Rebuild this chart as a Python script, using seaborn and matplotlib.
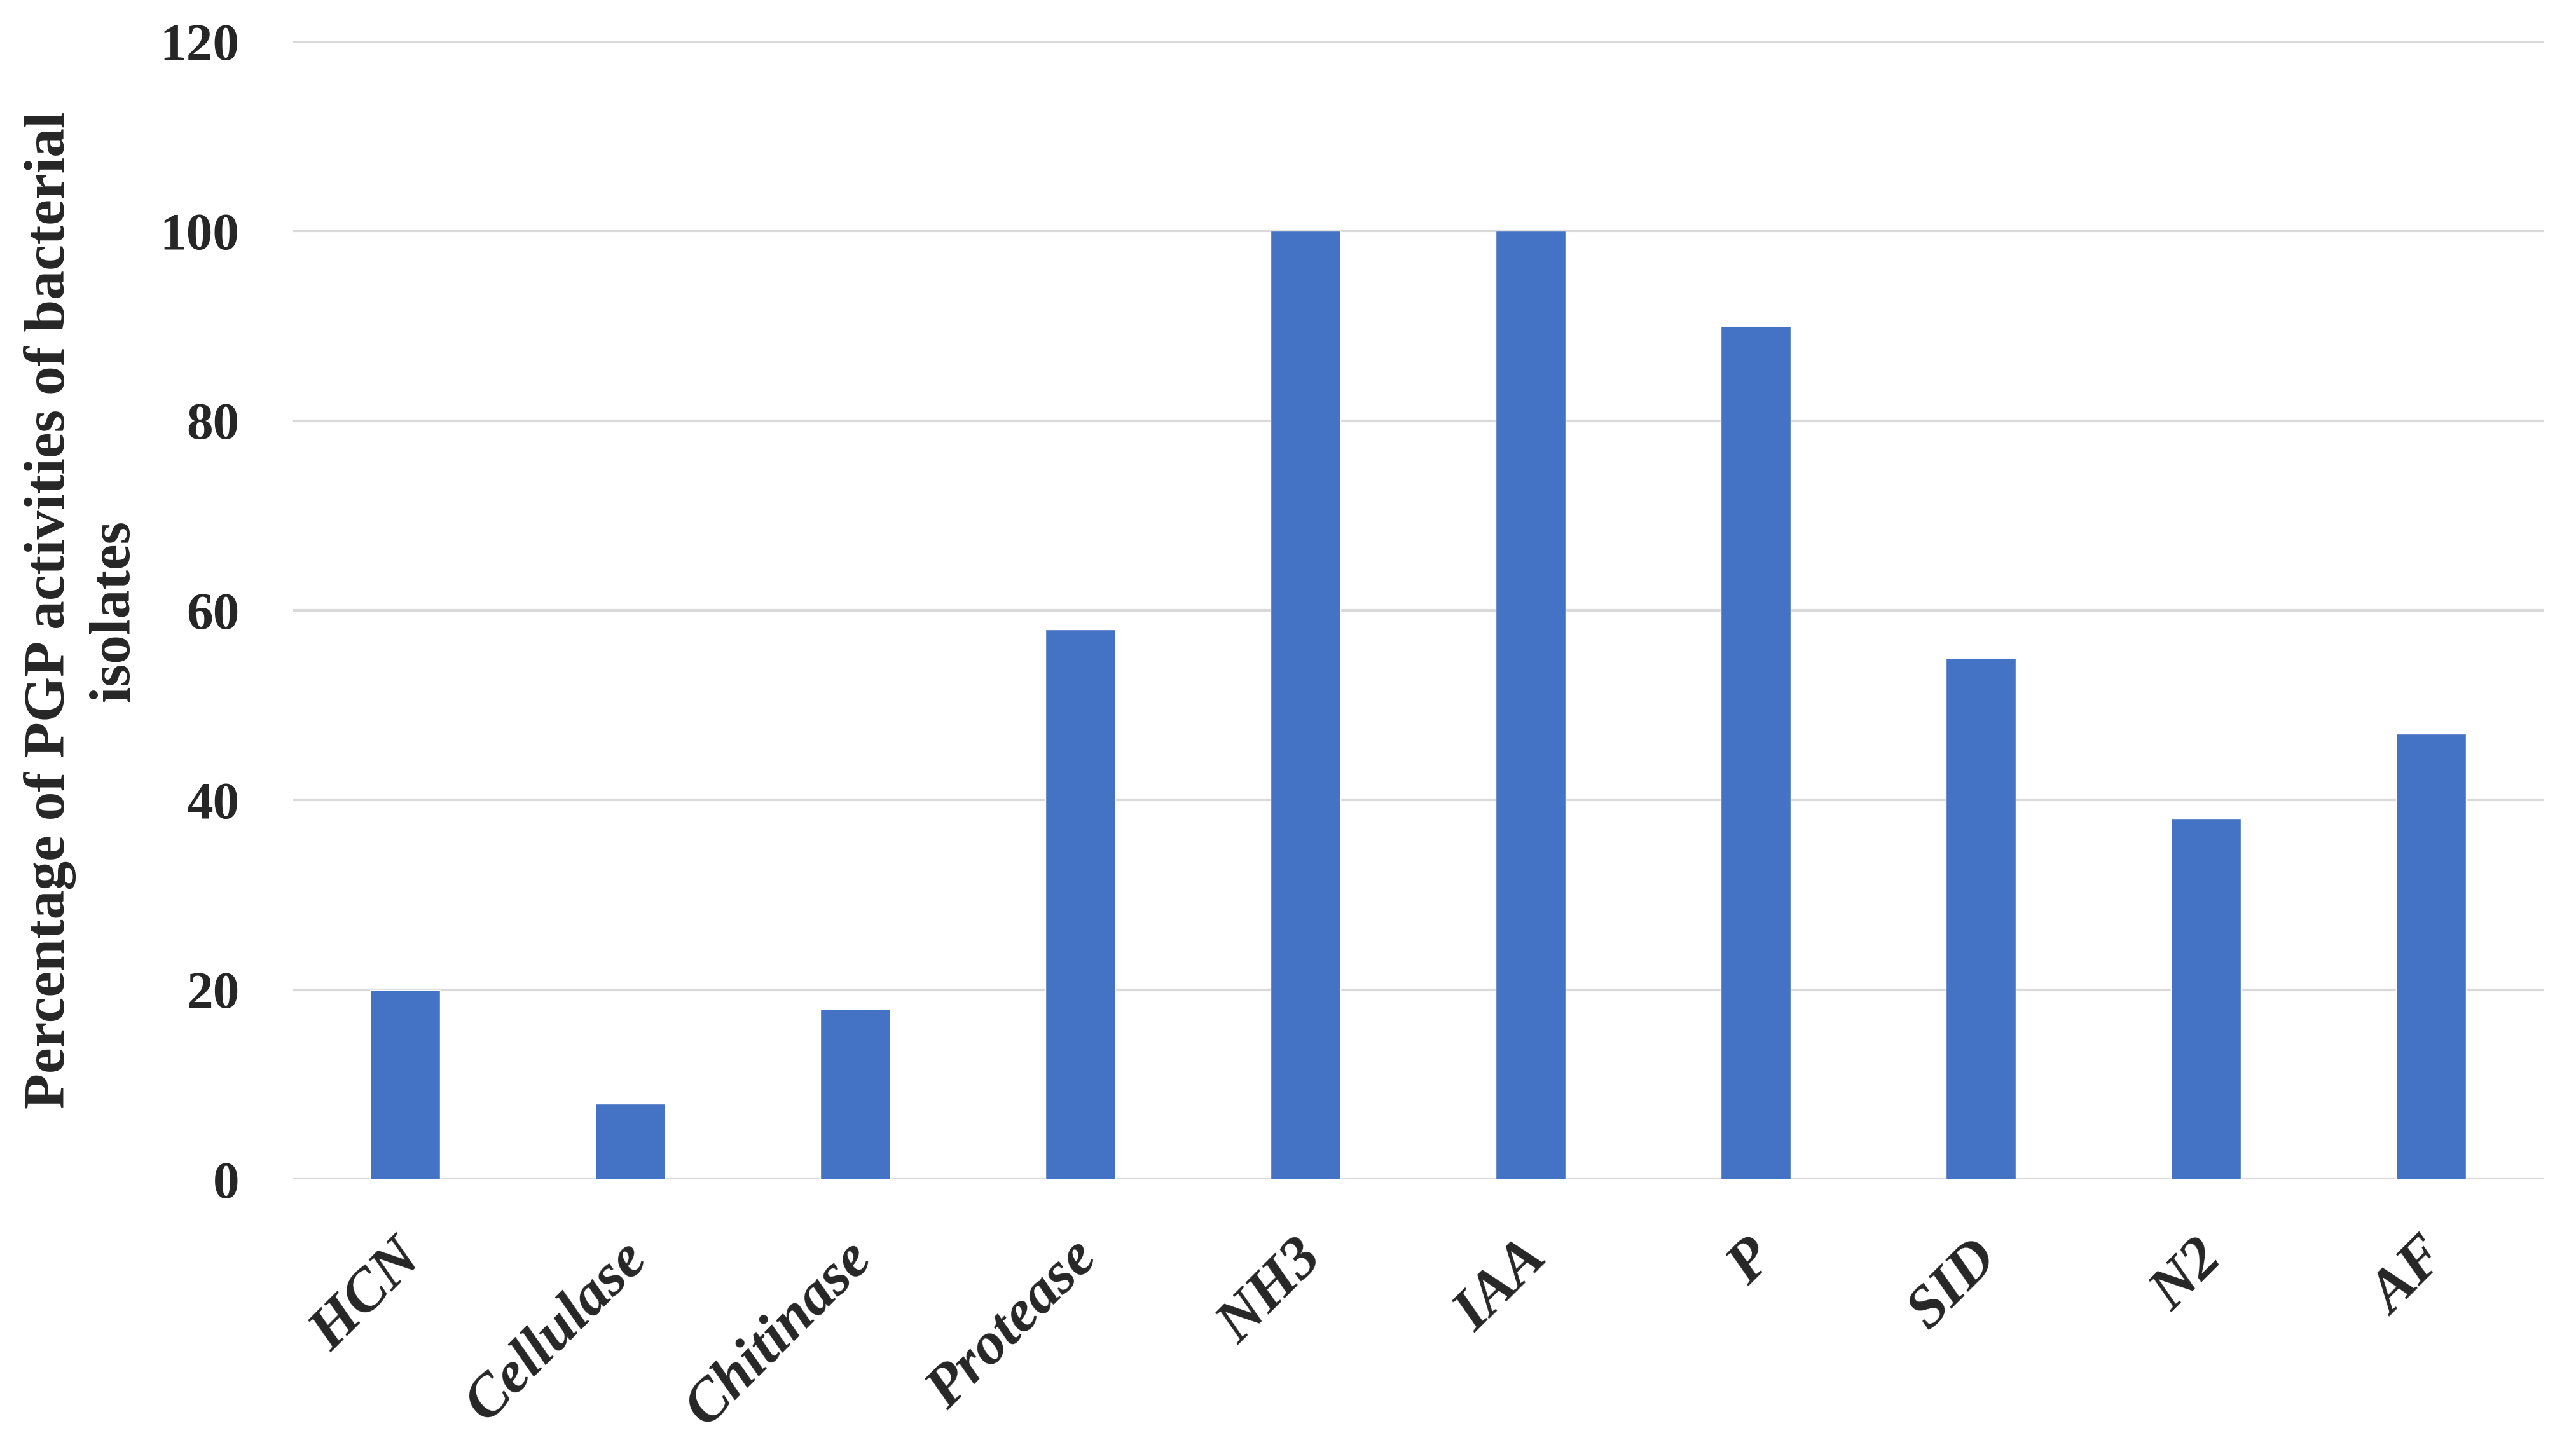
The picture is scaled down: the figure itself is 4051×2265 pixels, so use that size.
import pandas as pd
import matplotlib
matplotlib.use("Agg")
import matplotlib.pyplot as plt
import matplotlib.transforms as mtransforms
import seaborn as sns

# dados
atividades = ['HCN', 'Cellulase', 'Chitinase', 'Protease', 'NH3', 'IAA', 'P', 'SID', 'N2', 'AF']
percentuais = [20, 8, 18, 58, 100, 100, 90, 55, 38, 47]
yticks = [0, 20, 40, 60, 80, 100, 120]

COR_BARRA = '#4472C4'
COR_GRADE = '#d9d9d9'

sns.set_theme(style="white")
plt.rcParams['font.family'] = ['Liberation Serif', 'DejaVu Serif']

df = pd.DataFrame({'atividade': atividades, 'percentual': percentuais})

fig = plt.figure(figsize=(40.51, 22.65), dpi=100)
ax = fig.add_axes([460 / 4051, 1 - 1855 / 2265, (4000 - 460) / 4051, (1855 - 65) / 2265])

sns.barplot(data=df, x='atividade', y='percentual', color=COR_BARRA,
            width=0.31, saturation=1, ax=ax, zorder=3)

ax.set_ylim(0, 120)
ax.set_xlim(-0.5, len(atividades) - 0.5)
ax.set_yticks(yticks)
ax.yaxis.grid(True, color=COR_GRADE, linewidth=3, zorder=0)
ax.set_axisbelow(True)
sns.despine(ax=ax, left=True, bottom=True)
ax.tick_params(axis='both', length=0)
ax.tick_params(axis='y', pad=60)

for t in ax.get_yticklabels():
    t.set_fontsize(60)
    t.set_fontweight('bold')

ax.set_xticks(range(len(atividades)))
ax.set_xticklabels(atividades, rotation=45, ha='right', va='center',
                   rotation_mode='anchor', fontsize=68, fontweight='bold',
                   fontstyle='italic')
ax.tick_params(axis='x', pad=80)

# pequeno deslocamento à direita dos rótulos do eixo x
desloc = mtransforms.ScaledTranslation(0.13, 0, fig.dpi_scale_trans)
for t in ax.get_xticklabels():
    t.set_transform(t.get_transform() + desloc)

ax.set_xlabel('')
ax.set_ylabel('Percentage of PGP activities of bacterial\nisolates',
              fontsize=66, fontweight='bold', labelpad=22, linespacing=1.3)

fig.savefig('out.png', dpi=100, facecolor='white')
